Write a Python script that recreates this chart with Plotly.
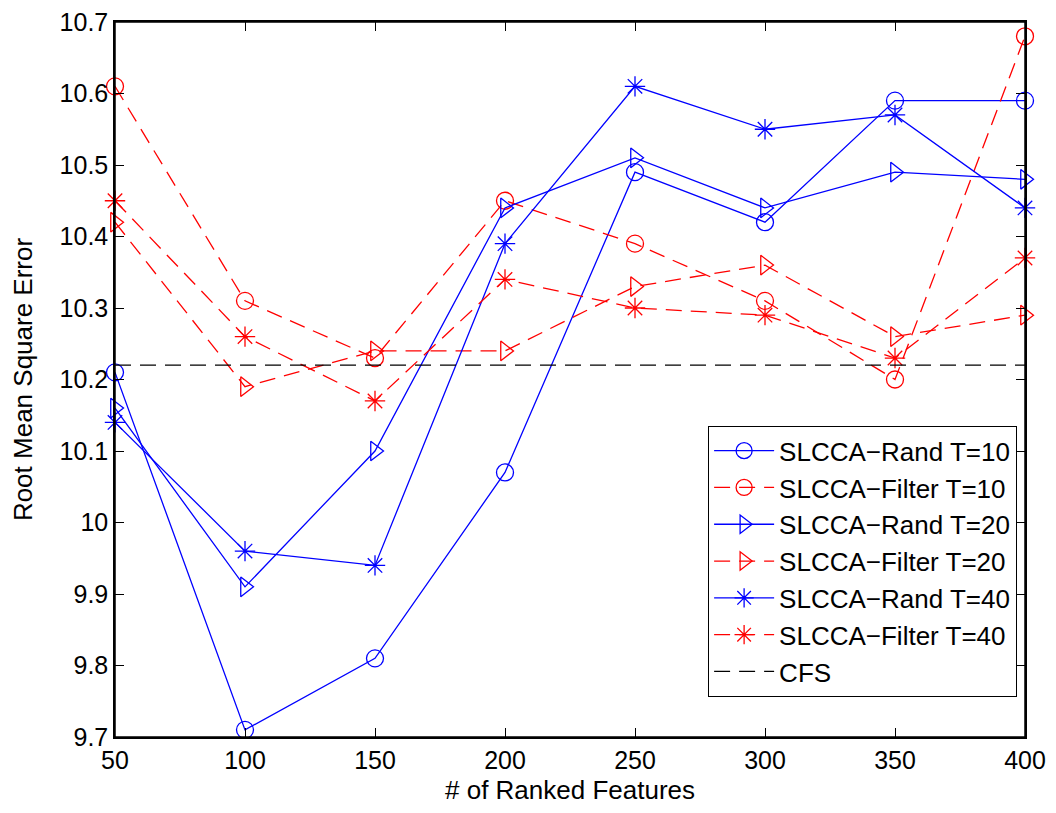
import plotly.graph_objects as go

x_vals = [50, 100, 150, 200, 250, 300, 350, 400]
rand_t10 = [10.21, 9.71, 9.81, 10.07, 10.49, 10.42, 10.59, 10.59]
filter_t10 = [10.61, 10.31, 10.23, 10.45, 10.39, 10.31, 10.20, 10.68]
rand_t20 = [10.16, 9.91, 10.10, 10.44, 10.51, 10.44, 10.49, 10.48]
filter_t20 = [10.42, 10.19, 10.24, 10.24, 10.33, 10.36, 10.26, 10.29]
rand_t40 = [10.14, 9.96, 9.94, 10.39, 10.61, 10.55, 10.57, 10.44]
filter_t40 = [10.45, 10.26, 10.17, 10.34, 10.30, 10.29, 10.23, 10.37]
cfs = [10.22, 10.22]
cfs_x = [50, 400]
y_ticks = [9.7, 9.8, 9.9, 10, 10.1, 10.2, 10.3, 10.4, 10.5, 10.6, 10.7]
y_tick_text = ["9.7", "9.8", "9.9", "10", "10.1", "10.2", "10.3", "10.4", "10.5", "10.6", "10.7"]

BLUE = "rgb(0,0,255)"
RED = "rgb(255,0,0)"
DASH = "16px,9px"
FONT = "Liberation Sans, Arial, Helvetica"

series = [
    ("SLCCA\u2212Rand T=10", rand_t10, BLUE, "solid", "circle-open"),
    ("SLCCA\u2212Filter T=10", filter_t10, RED, DASH, "circle-open"),
    ("SLCCA\u2212Rand T=20", rand_t20, BLUE, "solid", "triangle-right-open"),
    ("SLCCA\u2212Filter T=20", filter_t20, RED, DASH, "triangle-right-open"),
    ("SLCCA\u2212Rand T=40", rand_t40, BLUE, "solid", "asterisk-open"),
    ("SLCCA\u2212Filter T=40", filter_t40, RED, DASH, "asterisk-open"),
]

fig = go.Figure()
for name, ys, col, dash, sym in series:
    fig.add_trace(go.Scatter(
        x=x_vals, y=ys, name=name, mode="lines+markers",
        line=dict(color=col, width=1.3, dash=dash),
        marker=dict(symbol=sym, size=17, color=col, line=dict(color=col, width=1.3)),
        cliponaxis=False,
    ))
fig.add_trace(go.Scatter(
    x=cfs_x, y=cfs, name="CFS", mode="lines",
    line=dict(color="black", width=1.3, dash=DASH),
))

axis_common = dict(
    showgrid=False, zeroline=False, showline=True, linecolor="black", linewidth=1.5,
    mirror="ticks", ticks="inside", ticklen=9, tickcolor="black", tickwidth=1,
    tickfont=dict(family=FONT, size=25, color="black"), automargin=False,
    ticklabeloverflow="allow",
)

# page body has an 8px margin: figure starts at (8, 8)
fig.update_layout(
    width=1040, height=797,
    paper_bgcolor="white", plot_bgcolor="white",
    margin=dict(l=107, r=23, t=14, b=68),
    font=dict(family=FONT, color="black"),
    xaxis=dict(range=[50, 400], tickvals=x_vals, **axis_common),
    yaxis=dict(range=[9.7, 10.7], tickvals=y_ticks, ticktext=y_tick_text,
               title=dict(text="Root Mean Square Error", font=dict(size=26), standoff=20),
               **axis_common),
    legend=dict(x=0.991, y=0.056, xanchor="right", yanchor="bottom",
                bgcolor="white", bordercolor="black", borderwidth=1.3,
                font=dict(size=26, family=FONT, color="black"),
                tracegroupgap=0, itemwidth=60),
    showlegend=True,
    shapes=[dict(type="rect", xref="paper", yref="paper", x0=0, x1=1, y0=0, y1=1,
                 line=dict(color="black", width=1.5), layer="above")],
    annotations=[dict(text="# of Ranked Features", xref="paper", yref="paper",
                      x=0.5, y=0, xanchor="center", yanchor="top", yshift=-36,
                      showarrow=False, font=dict(size=26, family=FONT, color="black"))],
)

fig.write_html("out.html")
